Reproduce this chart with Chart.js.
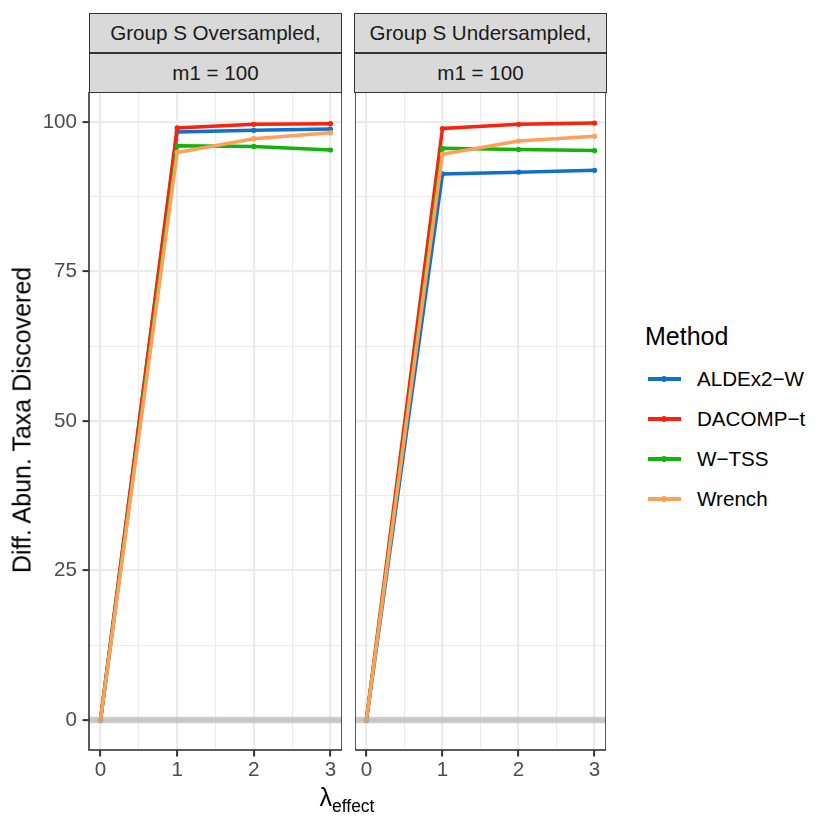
<!DOCTYPE html>
<html>
<head>
<meta charset="utf-8">
<script src="https://cdn.jsdelivr.net/npm/chart.js@4.4.1/dist/chart.umd.min.js"></script>
<style>
  body { margin: 0; background: #fff; }
  #wrap { position: relative; width: 830px; height: 830px; overflow: hidden; font-family: "Liberation Sans", Arial, sans-serif; }
  canvas { position: absolute; }
  .strip { position: absolute; box-sizing: border-box; height: 40px; background: #D9D9D9; border: 1.4px solid #333;
           color: #1A1A1A; font-size: 20.6px; display: flex; align-items: center; justify-content: center; }
  .ytitle { position: absolute; left: 22px; top: 420px; transform: translate(-50%, -50%) rotate(-90deg);
            font-size: 25px; white-space: nowrap; color: #000; }
  .xtitle { position: absolute; left: 347px; top: 800px; transform: translate(-50%, -50%); font-size: 25px; color: #000; white-space: nowrap; }
  .xtitle sub { font-size: 17.5px; vertical-align: -6px; }
  .legend-title { position: absolute; left: 645px; top: 322px; font-size: 25px; color: #000; }
  .legend-item { position: absolute; left: 645px; height: 30px; width: 185px; }
  .legend-item .key { position: absolute; left: 3px; top: 13px; width: 33px; height: 4px; }
  .legend-item .dot { position: absolute; left: 16px; top: 12px; width: 6px; height: 6px; border-radius: 50%; }
  .legend-item .lab { position: absolute; left: 52px; top: 3px; font-size: 20.6px; color: #000; white-space: nowrap; }
</style>
</head>
<body>
<div id="wrap">
  <canvas id="chartOver" style="left:0px;top:92px;width:342px;height:740px"></canvas>
  <canvas id="chartUnder" style="left:355px;top:92px;width:251px;height:740px"></canvas>
  <div class="ytitle">Diff. Abun. Taxa Discovered</div>
  <div class="xtitle">λ<sub>effect</sub></div>
  <div class="legend-title">Method</div>
</div>
<script>
// data
const LAMBDA = [0, 1, 2, 3];
const METHODS = ['ALDEx2\u2212W', 'DACOMP\u2212t', 'W\u2212TSS', 'Wrench'];
const COLORS = ['#1170CC', '#F8230C', '#12B30A', '#FFA05A'];

const OVER_ALDEX2 = [0, 98.3, 98.6, 98.8];
const OVER_DACOMP = [0, 99.0, 99.6, 99.7];
const OVER_WTSS   = [0, 96.0, 95.9, 95.3];
const OVER_WRENCH = [0, 94.9, 97.2, 98.2];

const UNDER_ALDEX2 = [0, 91.3, 91.6, 91.9];
const UNDER_DACOMP = [0, 98.9, 99.6, 99.8];
const UNDER_WTSS   = [0, 95.6, 95.4, 95.2];
const UNDER_WRENCH = [0, 94.6, 96.8, 97.6];

const PANEL_TITLES = [['Group S Oversampled,', 'm1 = 100'], ['Group S Undersampled,', 'm1 = 100']];

const Y_TICKS = [0, 25, 50, 75, 100];
const Y_MINOR = [12.5, 37.5, 62.5, 87.5];
const X_TICKS = [0, 1, 2, 3];
const X_MINOR = [0.5, 1.5, 2.5];
const Y_RANGE = [-5, 105];
const X_RANGE = [-0.15, 3.15];
const ZERO_LINE = 0;

const wrap = document.getElementById('wrap');

// strips
const stripPos = [{ left: 89, width: 253 }, { left: 354, width: 253 }];
PANEL_TITLES.forEach((rows, p) => {
    rows.forEach((txt, r) => {
        const d = document.createElement('div');
        d.className = 'strip';
        d.style.left = stripPos[p].left + 'px';
        d.style.width = stripPos[p].width + 'px';
        d.style.top = (13 + r * 39.5) + 'px';
        d.textContent = txt;
        wrap.appendChild(d);
    });
});

// legend
METHODS.forEach((m, i) => {
    const item = document.createElement('div');
    item.className = 'legend-item';
    item.style.top = (364 + i * 40) + 'px';
    item.innerHTML = `<div class="key" style="background:${COLORS[i]}"></div>
                      <div class="dot" style="background:${COLORS[i]}"></div>
                      <div class="lab">${m}</div>`;
    wrap.appendChild(item);
});

function isMajor(list, v) {
    return list.some(t => Math.abs(t - v) < 1e-9);
}

function makeDatasets(series) {
    return series.map((vals, i) => ({
        label: METHODS[i],
        data: LAMBDA.map((x, j) => ({ x: x, y: vals[j] })),
        borderColor: COLORS[i],
        backgroundColor: COLORS[i],
        borderWidth: 3.5,
        pointRadius: 2.6,
        pointHoverRadius: 2.6,
        pointBorderWidth: 0,
        tension: 0,
        order: series.length - i
    }));
}

// no label overhang padding, so the panel fills the canvas exactly
function noPad(s) {
    s.paddingLeft = 0;
    s.paddingRight = 0;
    s.paddingTop = 0;
    s.paddingBottom = 0;
}

const panelDeco = {
    id: 'panelDeco',
    afterDatasetsDraw(chart) {
        const { ctx, chartArea: a, scales } = chart;
        const y = scales.y.getPixelForValue(ZERO_LINE);
        ctx.save();
        ctx.beginPath();
        ctx.rect(a.left, a.top, a.right - a.left, a.bottom - a.top);
        ctx.clip();
        ctx.strokeStyle = 'rgba(165,165,165,0.55)';
        ctx.lineWidth = 6.5;
        ctx.beginPath();
        ctx.moveTo(a.left, y);
        ctx.lineTo(a.right, y);
        ctx.stroke();
        ctx.restore();
    },
    afterDraw(chart) {
        const { ctx, chartArea: a } = chart;
        ctx.save();
        ctx.strokeStyle = '#333333';
        ctx.lineWidth = 1.6;
        ctx.strokeRect(a.left, a.top, a.right - a.left, a.bottom - a.top);
        ctx.restore();
    }
};

function makeChart(id, series, showY) {
    const tickFont = { family: '"Liberation Sans", Arial, sans-serif', size: 20.6 };
    return new Chart(document.getElementById(id), {
        type: 'line',
        data: { datasets: makeDatasets(series) },
        plugins: [panelDeco],
        options: {
            responsive: false,
            animation: false,
            layout: { padding: 0, autoPadding: false },
            plugins: { legend: { display: false }, tooltip: { enabled: false } },
            scales: {
                x: {
                    type: 'linear',
                    min: X_RANGE[0],
                    max: X_RANGE[1],
                    afterBuildTicks: s => { s.ticks = X_TICKS.concat(X_MINOR).sort((a, b) => a - b).map(v => ({ value: v })); },
                    afterFit: s => { s.height = 82; noPad(s); },
                    border: { display: false },
                    grid: {
                        color: '#EBEBEB',
                        lineWidth: c => isMajor(X_TICKS, c.tick.value) ? 2.2 : 1.1,
                        tickColor: c => isMajor(X_TICKS, c.tick.value) ? '#333333' : 'rgba(0,0,0,0)',
                        tickLength: 6.5,
                        tickWidth: 2
                    },
                    ticks: {
                        autoSkip: false,
                        maxRotation: 0,
                        padding: 1.5,
                        color: '#4D4D4D',
                        font: tickFont,
                        callback: v => isMajor(X_TICKS, v) ? String(v) : ''
                    }
                },
                y: {
                    type: 'linear',
                    min: Y_RANGE[0],
                    max: Y_RANGE[1],
                    afterBuildTicks: s => { s.ticks = Y_TICKS.concat(Y_MINOR).sort((a, b) => a - b).map(v => ({ value: v })); },
                    afterFit: s => { s.width = showY ? 89 : 0; noPad(s); },
                    border: { display: false },
                    grid: {
                        color: '#EBEBEB',
                        lineWidth: c => isMajor(Y_TICKS, c.tick.value) ? 2.2 : 1.1,
                        tickColor: c => isMajor(Y_TICKS, c.tick.value) ? '#333333' : 'rgba(0,0,0,0)',
                        drawTicks: showY,
                        tickLength: 6.5,
                        tickWidth: 2
                    },
                    ticks: {
                        display: showY,
                        autoSkip: false,
                        padding: 5.5,
                        color: '#4D4D4D',
                        font: tickFont,
                        callback: v => isMajor(Y_TICKS, v) ? String(v) : ''
                    }
                }
            }
        }
    });
}

makeChart('chartOver', [OVER_ALDEX2, OVER_DACOMP, OVER_WTSS, OVER_WRENCH], true);
makeChart('chartUnder', [UNDER_ALDEX2, UNDER_DACOMP, UNDER_WTSS, UNDER_WRENCH], false);
</script>
</body>
</html>
